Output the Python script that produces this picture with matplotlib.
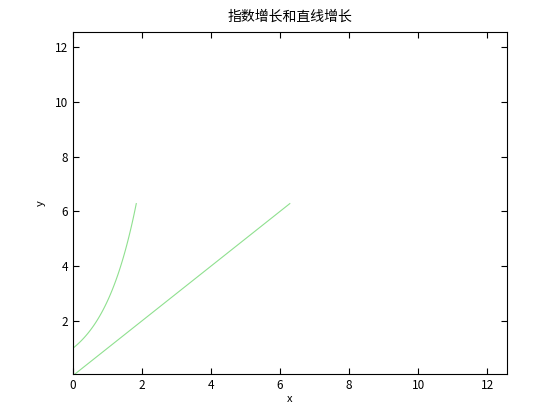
import numpy as np
import matplotlib
matplotlib.use("Agg")
import matplotlib.pyplot as plt

plt.rcParams['font.family'] = ['Noto Sans CJK SC', 'DejaVu Sans']
plt.rcParams['font.size'] = 8

# 数据
x_exp = np.linspace(0, np.log(2 * np.pi), 60)
y_exp = np.exp(x_exp)
x_line = [0, 2 * np.pi]
y_line = [0, 2 * np.pi]
x_ticks = [0, 2, 4, 6, 8, 10, 12]
y_ticks = [2, 4, 6, 8, 10, 12]

fig = plt.figure(figsize=(5.6, 4.2), dpi=100)
ax = fig.add_axes([0.13, 0.11, 0.775, 0.815])

ax.plot(x_exp, y_exp, color='#8fe08f', linewidth=0.8)
ax.plot(x_line, y_line, color='#8fe08f', linewidth=0.8)

ax.set_xlim(0, 4 * np.pi)
ax.set_ylim(0.07, 4 * np.pi)
ax.set_xticks(x_ticks)
ax.set_yticks(y_ticks)
ax.tick_params(direction='in', length=4, top=True, right=True, labelsize=8.5)
for s in ax.spines.values():
    s.set_linewidth(0.8)

ax.set_title("指数增长和直线增长", fontsize=10, pad=8)
ax.set_xlabel("x", fontsize=8, labelpad=2)
ax.set_ylabel("y", fontsize=8, labelpad=6)

fig.savefig("out.png", dpi=100)
